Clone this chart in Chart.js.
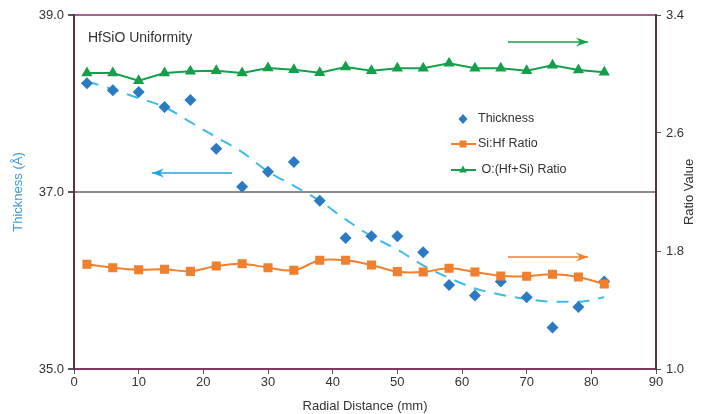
<!DOCTYPE html>
<html>
<head>
<meta charset="utf-8">
<script src="https://cdn.jsdelivr.net/npm/chart.js@4"></script>
<style>
  html, body { margin: 0; padding: 0; background: #fff; }
  #wrap { width: 704px; height: 414px; }
</style>
</head>
<body>
<div id="wrap"><canvas id="uniformity"></canvas></div>
<script>
// radial positions (mm)
var radial = [2, 6, 10, 14, 18, 22, 26, 30, 34, 38, 42, 46, 50, 54, 58, 62, 66, 70, 74, 78, 82];
// thickness in Angstrom (left axis)
var thickness = [38.23, 38.15, 38.13, 37.96, 38.04, 37.49, 37.06, 37.23, 37.34, 36.90, 36.48,
                 36.50, 36.50, 36.32, 35.95, 35.83, 35.99, 35.81, 35.47, 35.70, 35.99];
// dashed trend curve
var thicknessTrend = [38.25, 38.16, 38.06, 37.96, 37.79, 37.62, 37.45, 37.23, 37.07, 36.90, 36.69,
                      36.50, 36.35, 36.17, 36.03, 35.91, 35.84, 35.79, 35.76, 35.76, 35.81];
// ratios (right axis)
var siHf = [1.710, 1.687, 1.673, 1.676, 1.662, 1.698, 1.714, 1.687, 1.669, 1.737, 1.737,
            1.705, 1.660, 1.658, 1.683, 1.658, 1.631, 1.629, 1.642, 1.624, 1.576];
var oHfSi = [3.007, 3.007, 2.955, 3.007, 3.018, 3.022, 3.007, 3.041, 3.029, 3.009, 3.047,
             3.022, 3.039, 3.039, 3.073, 3.039, 3.039, 3.022, 3.059, 3.027, 3.012];

var leftTicks = [35, 37, 39];
var rightTicks = [1.0, 1.8, 2.6, 3.4];

function pts(ys) {
    return radial.map(function (x, i) { return { x: x, y: ys[i] }; });
}

var FONT = "'Liberation Sans', Arial, sans-serif";
var BLUE = '#2a7bc3', TREND = '#3dbbeb', ORANGE = '#f07f2e', GREEN = '#14a04b';

function arrow(c, x1, y1, x2, y2, color) {
    c.save();
    c.strokeStyle = color; c.fillStyle = color; c.lineWidth = 1.5;
    c.beginPath(); c.moveTo(x1, y1); c.lineTo(x2, y2); c.stroke();
    var dir = x2 > x1 ? 1 : -1;
    c.beginPath();
    c.moveTo(x2, y2);
    c.lineTo(x2 - dir * 12, y2 - 4.5);
    c.lineTo(x2 - dir * 8, y2);
    c.lineTo(x2 - dir * 12, y2 + 4.5);
    c.closePath(); c.fill();
    c.restore();
}

var extras = {
    id: 'extras',
    afterDraw: function (chart) {
        var c = chart.ctx;
        c.save();
        c.fillStyle = '#333';
        c.font = '14px ' + FONT;
        c.textBaseline = 'middle';
        c.fillText('HfSiO Uniformity', 88, 38);

        // arrows pointing to the axis each series belongs to
        arrow(c, 232, 173, 152, 173, '#1fa3e6');
        arrow(c, 508, 42, 588, 42, GREEN);
        arrow(c, 508, 257, 588, 257, ORANGE);

        // legend
        c.font = '12.5px ' + FONT;
        c.fillStyle = '#333';
        c.fillText('Thickness', 478, 119);
        c.fillText('Si:Hf Ratio', 478, 144);
        c.fillText(' O:(Hf+Si) Ratio', 478, 170);
        c.fillStyle = BLUE;
        c.beginPath();
        c.moveTo(463, 114); c.lineTo(467.5, 119); c.lineTo(463, 124); c.lineTo(458.5, 119);
        c.closePath(); c.fill();
        c.lineWidth = 2;
        c.strokeStyle = ORANGE; c.fillStyle = ORANGE;
        c.beginPath(); c.moveTo(451, 144); c.lineTo(476, 144); c.stroke();
        c.fillRect(459.5, 140.5, 7, 7);
        c.strokeStyle = GREEN; c.fillStyle = GREEN;
        c.beginPath(); c.moveTo(451, 170); c.lineTo(476, 170); c.stroke();
        c.beginPath(); c.moveTo(463, 165.5); c.lineTo(467, 172.5); c.lineTo(459, 172.5); c.closePath(); c.fill();

        // right axis title reads bottom to top
        c.fillStyle = '#333';
        c.font = '13px ' + FONT;
        c.translate(689, 192);
        c.rotate(-Math.PI / 2);
        c.textAlign = 'center';
        c.fillText('Ratio Value', 0, 0);
        c.restore();
    }
};

var ctx = document.getElementById('uniformity');

var chart = new Chart(ctx, {
    type: 'scatter',
    data: {
        datasets: [
            {
                label: 'Thickness',
                data: pts(thickness),
                yAxisID: 'y',
                showLine: false,
                pointStyle: 'rectRot',
                pointRadius: 6,
                backgroundColor: BLUE,
                borderColor: BLUE,
                borderWidth: 0,
                order: 1
            },
            {
                label: 'Trend',
                data: pts(thicknessTrend),
                yAxisID: 'y',
                showLine: true,
                pointRadius: 0,
                borderColor: TREND,
                borderWidth: 2,
                borderDash: [12, 9],
                cubicInterpolationMode: 'monotone',
                order: 2
            },
            {
                label: 'Si:Hf Ratio',
                data: pts(siHf),
                yAxisID: 'y1',
                showLine: true,
                tension: 0.35,
                pointStyle: 'rect',
                pointRadius: 5,
                borderColor: ORANGE,
                backgroundColor: ORANGE,
                borderWidth: 2,
                order: 0
            },
            {
                label: 'O:(Hf+Si) Ratio',
                data: pts(oHfSi),
                yAxisID: 'y1',
                showLine: true,
                tension: 0,
                pointStyle: 'triangle',
                pointRadius: 4.5,
                borderColor: GREEN,
                backgroundColor: GREEN,
                borderWidth: 2,
                order: 0
            }
        ]
    },
    options: {
        responsive: true,
        maintainAspectRatio: false,
        animation: false,
        layout: { padding: { top: 15, left: 0, right: 0, bottom: 0 } },
        plugins: {
            legend: { display: false },
            tooltip: { enabled: false }
        },
        scales: {
            x: {
                type: 'linear',
                min: 0, max: 90,
                ticks: { stepSize: 10, color: '#333', font: { family: FONT, size: 13 }, padding: 1 },
                grid: { drawOnChartArea: false, tickLength: 5, tickColor: '#555', color: '#555' },
                border: { color: '#7e3a5e', width: 2 },
                title: { display: true, text: 'Radial Distance (mm)', color: '#333',
                         font: { family: FONT, size: 13 }, padding: { top: 0, bottom: 0 } },
                afterFit: function (s) { s.height = 45; }
            },
            y: {
                position: 'left',
                min: 35, max: 39,
                afterBuildTicks: function (s) { s.ticks = leftTicks.map(function (v) { return { value: v }; }); },
                ticks: { color: '#333', font: { family: FONT, size: 13 }, padding: 4,
                         callback: function (v) { return v.toFixed(1); } },
                grid: {
                    tickLength: 6,
                    tickColor: '#555',
                    lineWidth: 2,
                    color: function (c) {
                        if (c.tick && c.tick.value === 37) return '#8a8a8a';
                        if (c.tick && c.tick.value === 39) return '#a8628a';
                        return 'rgba(0,0,0,0)';
                    }
                },
                border: { color: '#5a3046', width: 2 },
                title: { display: true, text: 'Thickness (Å)', color: '#3a9ad9',
                         font: { family: FONT, size: 13 }, padding: { top: 11, bottom: 0 } },
                afterFit: function (s) { s.width = 74; }
            },
            y1: {
                position: 'right',
                min: 1.0, max: 3.4,
                afterBuildTicks: function (s) { s.ticks = rightTicks.map(function (v) { return { value: v }; }); },
                ticks: { color: '#333', font: { family: FONT, size: 13 }, padding: 5,
                         callback: function (v) { return v.toFixed(1); } },
                grid: { drawOnChartArea: false, tickLength: 5, tickColor: '#555', color: '#555' },
                border: { color: '#5a3046', width: 2 },
                afterFit: function (s) { s.width = 48; }
            }
        }
    },
    plugins: [extras]
});
</script>
</body>
</html>
